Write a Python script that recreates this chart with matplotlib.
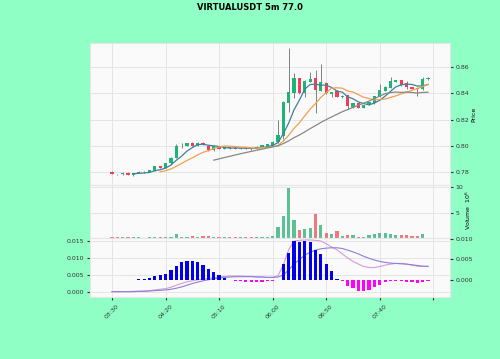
import numpy as np
import pandas as pd
import matplotlib
matplotlib.use("Agg")
import matplotlib.pyplot as plt

# 数据（5分钟K线）
opens = [0.7805, 0.7788, 0.7784, 0.7798, 0.7776, 0.7795, 0.7805, 0.7801, 0.7812, 0.7849,
         0.7831, 0.7868, 0.7912, 0.7999, 0.8000, 0.8020, 0.8000, 0.8025, 0.8000, 0.7968,
         0.7998, 0.7976, 0.7993, 0.7988, 0.7978, 0.7986, 0.7985, 0.7978, 0.7990, 0.7998,
         0.8000, 0.8030, 0.8075, 0.8325, 0.8399, 0.8512, 0.8399, 0.8487, 0.8512, 0.8418,
         0.8480, 0.8395, 0.8418, 0.8368, 0.8386, 0.8297, 0.8323, 0.8290, 0.8315, 0.8323,
         0.8373, 0.8418, 0.8442, 0.8487, 0.8499, 0.8474, 0.8448, 0.8440, 0.8429, 0.8505]
closes = [0.7787, 0.7784, 0.7798, 0.7779, 0.7795, 0.7805, 0.7800, 0.7817, 0.7845, 0.7831,
          0.7868, 0.7912, 0.7999, 0.8003, 0.8022, 0.8000, 0.8025, 0.8013, 0.7966, 0.7998,
          0.7976, 0.7993, 0.7983, 0.7978, 0.7986, 0.7980, 0.7975, 0.7995, 0.8005, 0.8015,
          0.8032, 0.8080, 0.8335, 0.8411, 0.8517, 0.8398, 0.8494, 0.8507, 0.8423, 0.8482,
          0.8398, 0.8405, 0.8373, 0.8380, 0.8305, 0.8323, 0.8287, 0.8310, 0.8330, 0.8378,
          0.8423, 0.8448, 0.8490, 0.8499, 0.8460, 0.8448, 0.8432, 0.8430, 0.8505, 0.8517]
highs = [0.7808, 0.7790, 0.7800, 0.7800, 0.7797, 0.7807, 0.7807, 0.7819, 0.7847, 0.7851,
         0.7870, 0.7915, 0.8014, 0.8020, 0.8025, 0.8033, 0.8027, 0.8027, 0.8003, 0.8000,
         0.8000, 0.7995, 0.7995, 0.7990, 0.7988, 0.7988, 0.7987, 0.7997, 0.8007, 0.8017,
         0.8035, 0.8196, 0.8340, 0.8739, 0.8550, 0.8515, 0.8497, 0.8560, 0.8575, 0.8618,
         0.8483, 0.8408, 0.8421, 0.8383, 0.8389, 0.8326, 0.8326, 0.8312, 0.8332, 0.8380,
         0.8470, 0.8451, 0.8520, 0.8502, 0.8502, 0.8490, 0.8450, 0.8443, 0.8525, 0.8520]
lows = [0.7784, 0.7782, 0.7782, 0.7776, 0.7774, 0.7793, 0.7798, 0.7799, 0.7810, 0.7829,
        0.7829, 0.7866, 0.7910, 0.7985, 0.7998, 0.7998, 0.7998, 0.8010, 0.7963, 0.7965,
        0.7973, 0.7974, 0.7980, 0.7976, 0.7976, 0.7978, 0.7972, 0.7976, 0.7988, 0.7996,
        0.7998, 0.8025, 0.8050, 0.8260, 0.8360, 0.8395, 0.8368, 0.8484, 0.8247, 0.8415,
        0.8395, 0.8370, 0.8370, 0.8365, 0.8280, 0.8285, 0.8284, 0.8288, 0.8313, 0.8321,
        0.8371, 0.8416, 0.8440, 0.8485, 0.8457, 0.8430, 0.8430, 0.8378, 0.8427, 0.8503]
volumes = [0.25, 0.2, 0.2, 0.25, 0.2, 0.2, 0.15, 0.2, 0.3, 0.25,
           0.3, 0.35, 0.85, 0.3, 0.25, 0.4, 0.3, 0.45, 0.5, 0.25,
           0.2, 0.2, 0.2, 0.2, 0.2, 0.2, 0.25, 0.2, 0.3, 0.35,
           0.4, 2.2, 4.3, 9.8, 3.5, 1.6, 1.8, 2.05, 4.8, 2.7,
           1.1, 0.95, 1.5, 0.45, 0.65, 0.75, 0.35, 0.2, 0.65, 0.85,
           1.1, 1.1, 0.95, 0.75, 0.65, 0.6, 0.5, 0.5, 0.95, 0.1]  # 单位 1e6
macd_hist = [0.0, 0.0, 0.0001, 0.0001, 0.0001, 0.0002, 0.0003, 0.0006, 0.0010, 0.0011,
             0.0014, 0.0024, 0.0035, 0.0044, 0.0047, 0.0046, 0.0043, 0.0037, 0.0026, 0.0020,
             0.0012, 0.0006, 0.0001, -0.0002, -0.0003, -0.0004, -0.0004, -0.0004, -0.0004, -0.0003,
             -0.0003, 0.0001, 0.0038, 0.0067, 0.0095, 0.0093, 0.0095, 0.0093, 0.0073, 0.0063,
             0.0038, 0.0023, 0.0003, -0.0002, -0.0014, -0.0020, -0.0027, -0.0028, -0.0024, -0.0018,
             -0.0012, -0.0006, -0.0002, -0.0003, -0.0002, -0.0005, -0.0006, -0.0008, -0.0004, -0.0002]
macd_fast = [0.0001, 0.0001, 0.0001, 0.0001, 0.0002, 0.0002, 0.0003, 0.0004, 0.0006, 0.0008,
             0.0010, 0.0014, 0.0020, 0.0025, 0.0030, 0.0033, 0.0036, 0.0038, 0.0040, 0.0042,
             0.0044, 0.0046, 0.0047, 0.0047, 0.0047, 0.0046, 0.0046, 0.0045, 0.0044, 0.0043,
             0.0043, 0.0048, 0.0080, 0.0125, 0.0150, 0.0152, 0.0153, 0.0153, 0.0152, 0.0150,
             0.0142, 0.0132, 0.0124, 0.0112, 0.0100, 0.0090, 0.0082, 0.0075, 0.0072, 0.0072,
             0.0075, 0.0079, 0.0082, 0.0084, 0.0084, 0.0082, 0.0079, 0.0076, 0.0075, 0.0076]
macd_slow = [0.0001, 0.0001, 0.0001, 0.0001, 0.0001, 0.0002, 0.0002, 0.0003, 0.0004, 0.0005,
             0.0006, 0.0008, 0.0011, 0.0015, 0.0020, 0.0025, 0.0029, 0.0033, 0.0036, 0.0039,
             0.0041, 0.0043, 0.0044, 0.0045, 0.0045, 0.0045, 0.0045, 0.0044, 0.0044, 0.0043,
             0.0043, 0.0044, 0.0050, 0.0065, 0.0082, 0.0096, 0.0108, 0.0117, 0.0123, 0.0127,
             0.0129, 0.0130, 0.0130, 0.0128, 0.0123, 0.0118, 0.0112, 0.0105, 0.0099, 0.0094,
             0.0090, 0.0087, 0.0085, 0.0084, 0.0083, 0.0082, 0.0080, 0.0078, 0.0076, 0.0075]
tick_labels = ['03:30', '04:20', '05:10', '06:00', '06:50', '07:40', '']
mav_periods = [5, 10, 20]

# 样式
bg = '#8fffc6'
up_c, down_c = '#1db574', '#f23d55'
vol_up, vol_down = '#5cc095', '#f07878'
mav_colors = ['#3f7f9c', '#f0a050', '#888888']
fs = 4.5

x = np.arange(len(closes))
o = np.array(opens); c = np.array(closes)
is_up = c >= o

fig = plt.figure(figsize=(5.0, 3.59), dpi=100, facecolor=bg)
fig.suptitle('VIRTUALUSDT 5m 77.0', fontsize=6, fontweight='bold', y=0.993)

left, width = 0.18, 0.72
ax_p = fig.add_axes([left, 0.4847, width, 0.3955])
ax_v = fig.add_axes([left, 0.3357, width, 0.149], sharex=ax_p)
ax_m = fig.add_axes([left, 0.1727, width, 0.163], sharex=ax_p)
ax_m2 = ax_m.twinx()

for a in (ax_p, ax_v, ax_m):
    a.set_facecolor('#fafafa')
    a.grid(True, color='#e2e2e2', linewidth=0.6)
    a.set_axisbelow(True)
    for s in a.spines.values():
        s.set_color('#e6e6e6')
for s in ax_m2.spines.values():
    s.set_visible(False)

# K线
ax_p.vlines(x, lows, highs, color='#808080', linewidth=0.7, zorder=2)
body = np.where(np.abs(c - o) < 0.00025, 0.00025, np.abs(c - o))
ax_p.bar(x, body, bottom=np.minimum(o, c), width=0.6,
         color=np.where(is_up, up_c, down_c), zorder=3)
cs = pd.Series(closes)
for p, col in zip(mav_periods, mav_colors):
    ax_p.plot(x, cs.rolling(p).mean(), color=col, linewidth=0.9, zorder=4)
ax_p.set_ylim(0.7704, 0.878)
ax_p.set_yticks([0.78, 0.80, 0.82, 0.84, 0.86])
ax_p.yaxis.set_major_formatter(matplotlib.ticker.FormatStrFormatter('%.2f'))
ax_p.yaxis.tick_right()
ax_p.set_ylabel('Price', fontsize=fs)
ax_p.yaxis.set_label_position('right')
ax_p.yaxis.set_label_coords(1.059, 0.5)

# 成交量
ax_v.bar(x, volumes, width=0.6, color=np.where(is_up, vol_up, vol_down))
ax_v.set_ylim(0, 10.4)
ax_v.set_yticks([5, 10])
ax_v.yaxis.tick_right()
ax_v.set_ylabel('Volume  $10^{6}$', fontsize=fs)
ax_v.yaxis.set_label_position('right')
ax_v.yaxis.set_label_coords(1.038, 0.53)

# MACD
hist = np.array(macd_hist)
ax_m2.bar(x, hist, width=0.6, color=np.where(hist >= 0, '#0000ee', '#ff00ff'))
ax_m2.set_ylim(-0.00415, 0.01012)
ax_m2.set_yticks([0.0, 0.005, 0.010])
ax_m2.yaxis.set_major_formatter(matplotlib.ticker.FormatStrFormatter('%.3f'))
ax_m.plot(x, macd_fast, color='#d99ad6', linewidth=0.8)
ax_m.plot(x, macd_slow, color='#8c80d8', linewidth=0.8)
ax_m.set_ylim(-0.00147, 0.01574)
ax_m.set_yticks([0.0, 0.005, 0.010, 0.015])
ax_m.yaxis.set_major_formatter(matplotlib.ticker.FormatStrFormatter('%.3f'))

ax_p.set_xlim(-4.1, 63.1)
ax_m.set_xticks(np.arange(0, 61, 10))
ax_m.set_xticklabels(tick_labels, rotation=45, fontsize=fs)
plt.setp(ax_p.get_xticklabels(), visible=False)
plt.setp(ax_v.get_xticklabels(), visible=False)
ax_p.tick_params(axis='x', length=0)
ax_v.tick_params(axis='x', length=0)
for a in (ax_p, ax_v, ax_m, ax_m2):
    a.tick_params(axis='y', labelsize=fs, length=2.5, pad=1.5, colors='#333333')
ax_m.tick_params(axis='x', length=2.5, pad=2, colors='#333333')

fig.savefig('out.png', dpi=100, facecolor=bg)
